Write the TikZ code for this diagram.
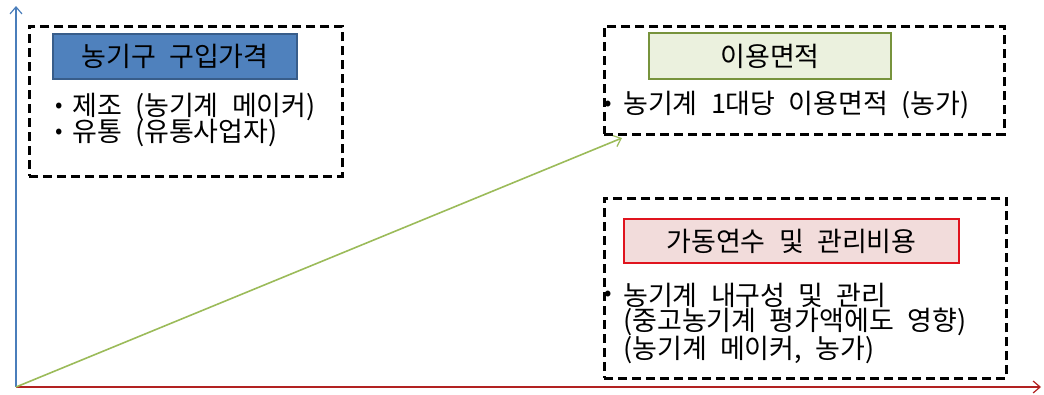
\documentclass[tikz,border=0pt]{standalone}
\usepackage{fontspec}
\setmainfont[WordSpace=2.2]{Noto Sans CJK KR}
\usetikzlibrary{arrows.meta}
\definecolor{axblue}{HTML}{4A7EBB}
\definecolor{axred}{HTML}{B22222}
\definecolor{axgreen}{HTML}{9BBB59}
\definecolor{hblue}{HTML}{4F81BD}
\definecolor{hblueb}{HTML}{385D8A}
\definecolor{hgreen}{HTML}{EBF1DE}
\definecolor{hgreenb}{HTML}{77933C}
\definecolor{hpink}{HTML}{F2DCDB}
\definecolor{hred}{HTML}{E0141E}
\tikzset{
  dashbox/.style={draw=black, line width=2.6pt, dash pattern=on 9pt off 5pt, anchor=north west, inner sep=0pt},
  headbox/.style={anchor=north west, inner sep=0pt, line width=2pt},
  headtxt/.style={font=\fontsize{27}{29}\selectfont, text=black},
  txt/.style={anchor=west, inner sep=0pt, font=\fontsize{27}{29}\selectfont, text=black},
  bul/.style={inner sep=0pt, font=\fontsize{22}{24}\selectfont},
  axis/.style={line width=1.6pt, -{Straight Barb[length=7pt,width=12pt,line width=1.2pt]}},
}
\begin{document}
\begin{tikzpicture}[x=1pt,y=-1pt]
\useasboundingbox (0,0) rectangle (1044,394);
% axes
\coordinate (o) at (16,387);
\coordinate (ytop) at (16,6);
\coordinate (xend) at (1041,387);
\coordinate (gend) at (622,138);
\draw[axis, axblue] (o) -- (ytop);
\draw[axis, axred] (o) -- (xend);
\draw[axis, axgreen] (o) -- (gend);
% box 1
\node[dashbox, minimum width=313pt, minimum height=150pt] (b1) at (28,25) {};
\node[headbox, fill=hblue, draw=hblueb, minimum width=244pt, minimum height=45pt] (h1) at (52,33) {};
\node[headtxt] (h1t) at (h1.center) {농기구 구입가격};
\node[bul] (p11) at (59,108) {•};
\node[txt] (t11) at (72,107) {제조 (농기계 메이커)};
\node[bul] (p12) at (59,134) {•};
\node[txt] (t12) at (72,133) {유통 (유통사업자)};
% box 2
\node[dashbox, minimum width=400pt, minimum height=108pt] (b2) at (603,25) {};
\node[headbox, fill=hgreen, draw=hgreenb, minimum width=242pt, minimum height=46pt] (h2) at (648,32) {};
\node[headtxt] (h2t) at (h2.center) {이용면적};
\node[bul] (p21) at (608,106) {•};
\node[txt] (t21) at (623,105) {농기계 1대당 이용면적 (농가)};
% box 3
\node[dashbox, minimum width=402pt, minimum height=180pt] (b3) at (603,197) {};
\node[headbox, fill=hpink, draw=hred, minimum width=335pt, minimum height=44pt] (h3) at (623,218) {};
\node[headtxt] (h3t) at (h3.center) {가동연수 및 관리비용};
\node[bul] (p31) at (608,296) {•};
\node[txt] (t31) at (623,295) {농기계 내구성 및 관리};
\node[txt] (t32) at (623,322) {(중고농기계 평가액에도 영향)};
\node[txt] (t33) at (623,350) {(농기계 메이커, 농가)};
\end{tikzpicture}
\end{document}
